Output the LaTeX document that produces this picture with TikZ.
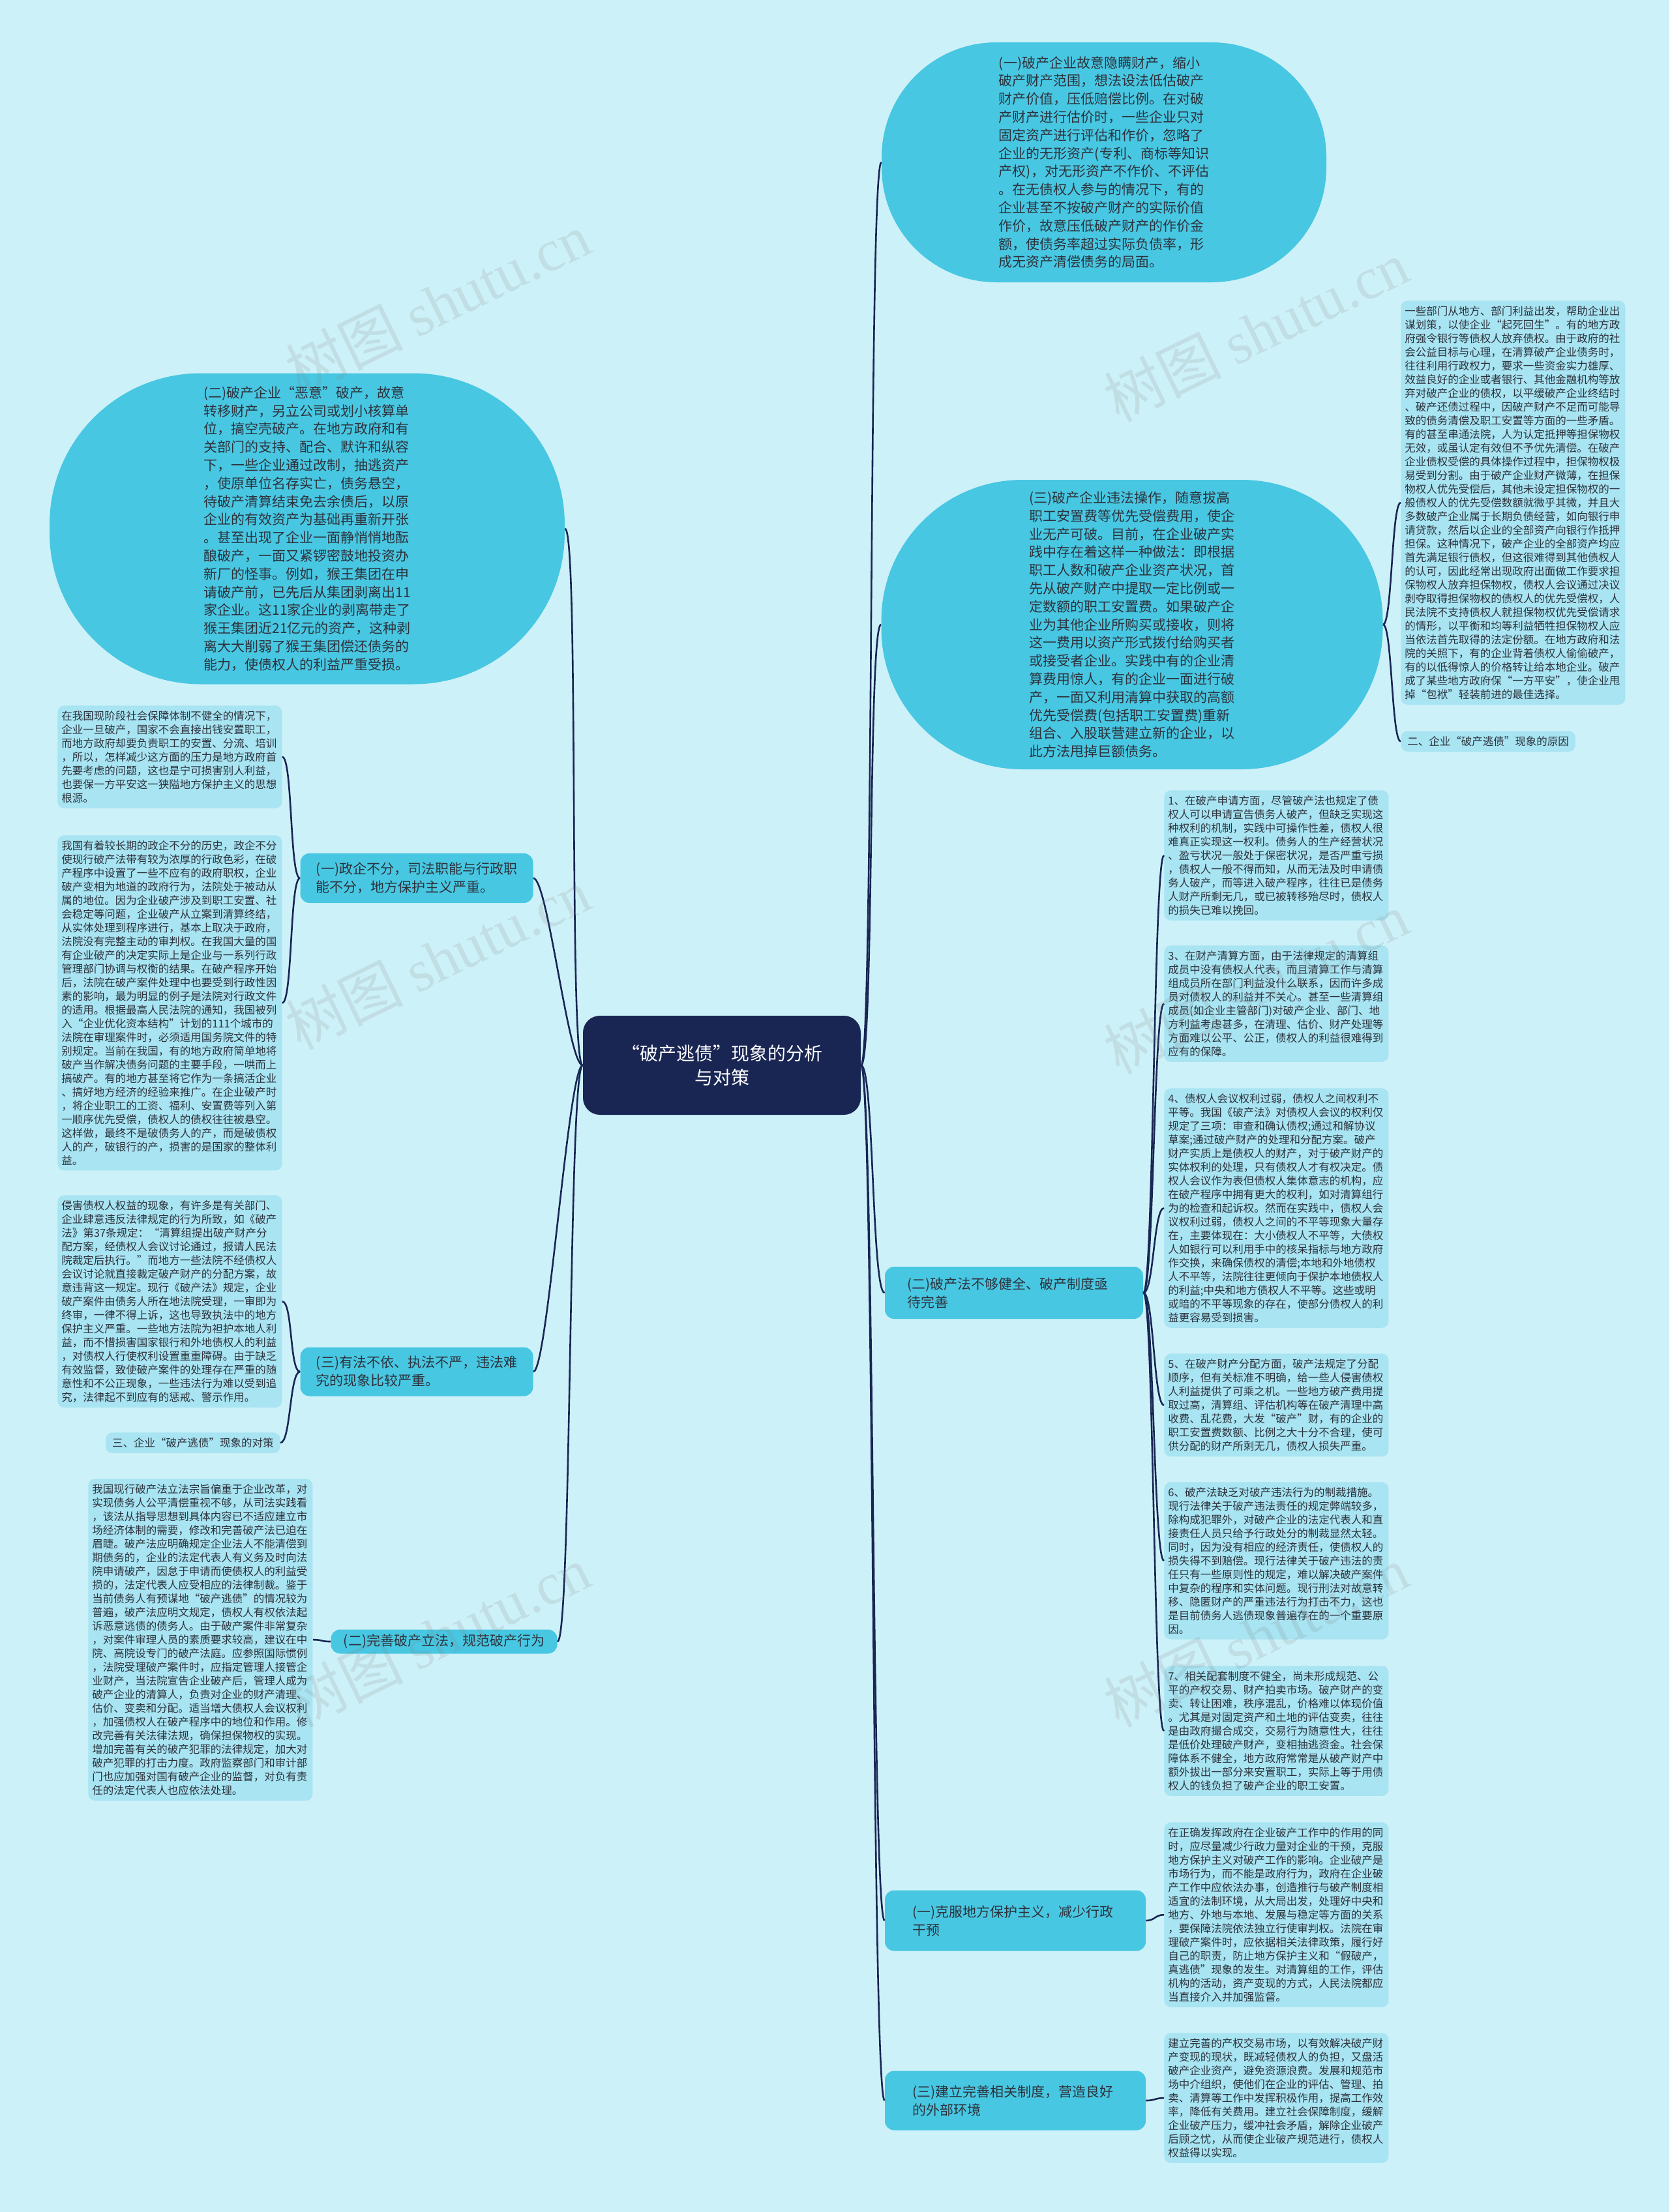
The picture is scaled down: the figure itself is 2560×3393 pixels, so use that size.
\documentclass[tikz,border=0pt]{standalone}
\usepackage{fontspec}
\setmainfont{Noto Sans CJK SC}
\newfontfamily\wmlatin{Liberation Serif}
\usepackage{tikz}
\usetikzlibrary{positioning}
\definecolor{pagecyan}{RGB}{205,241,248}
\definecolor{bubblecyan}{RGB}{72,199,226}
\definecolor{notecyan}{RGB}{168,228,242}
\definecolor{rootnavy}{RGB}{25,38,84}
\definecolor{inkgrey}{RGB}{45,50,60}
\tikzset{
  base/.style={text=inkgrey, align=left, inner sep=0pt},
  bubble/.style={base, fill=bubblecyan, font=\fontsize{10.5}{13.9}\selectfont},
  note/.style={base, fill=notecyan, rounded corners=5pt, inner xsep=3pt, inner ysep=4pt, text width=166pt, font=\fontsize{8.25}{10.5}\selectfont},
  tag/.style={base, fill=notecyan, rounded corners=5pt, inner xsep=5pt, inner ysep=4pt, font=\fontsize{8.25}{10.5}\selectfont},
  topic/.style={base, fill=bubblecyan, rounded corners=7pt, font=\fontsize{10.5}{14}\selectfont},
  root/.style={base, fill=rootnavy, text=white, align=center, rounded corners=13pt, font=\fontsize{14}{18.5}\selectfont},
  link/.style={draw=rootnavy, line width=1.3pt},
  wmark/.style={text=gray, opacity=0.16, rotate=26, font=\fontsize{45}{45}\selectfont},
}
\begin{document}
\begin{tikzpicture}[x=0.5pt,y=-0.5pt]
  \useasboundingbox (0,0) rectangle (2560,3393);
  \fill[pagecyan] (0,0) rectangle (2560,3393);

  % centre
  \node[root,minimum width=213pt,minimum height=76pt] (root) at (1107,1634) {“破产逃债”现象的分析\\与对策};

  % big bubbles
  \node[bubble,minimum width=341pt,minimum height=184pt,rounded corners=88pt] (e1) at (1693,249) {(一)破产企业故意隐瞒财产，缩小\\
破产财产范围，想法设法低估破产\\
财产价值，压低赔偿比例。在对破\\
产财产进行估价时，一些企业只对\\
固定资产进行评估和作价，忽略了\\
企业的无形资产(专利、商标等知识\\
产权)，对无形资产不作价、不评估\\
。在无债权人参与的情况下，有的\\
企业甚至不按破产财产的实际价值\\
作价，故意压低破产财产的作价金\\
额，使债务率超过实际负债率，形\\
成无资产清偿债务的局面。};
  \node[bubble,minimum width=395pt,minimum height=238.5pt,rounded corners=116pt] (e2) at (471,811) {(二)破产企业“恶意”破产，故意\\
转移财产，另立公司或划小核算单\\
位，搞空壳破产。在地方政府和有\\
关部门的支持、配合、默许和纵容\\
下，一些企业通过改制，抽逃资产\\
，使原单位名存实亡，债务悬空，\\
待破产清算结束免去余债后，以原\\
企业的有效资产为基础再重新开张\\
。甚至出现了企业一面静悄悄地酝\\
酿破产，一面又紧锣密鼓地投资办\\
新厂的怪事。例如，猴王集团在申\\
请破产前，已先后从集团剥离出11\\
家企业。这11家企业的剥离带走了\\
猴王集团近21亿元的资产，这种剥\\
离大大削弱了猴王集团偿还债务的\\
能力，使债权人的利益严重受损。};
  \node[bubble,minimum width=384.5pt,minimum height=222pt,rounded corners=108pt] (e3) at (1736,958) {(三)破产企业违法操作，随意拔高\\
职工安置费等优先受偿费用，使企\\
业无产可破。目前，在企业破产实\\
践中存在着这样一种做法：即根据\\
职工人数和破产企业资产状况，首\\
先从破产财产中提取一定比例或一\\
定数额的职工安置费。如果破产企\\
业为其他企业所购买或接收，则将\\
这一费用以资产形式拨付给购买者\\
或接受者企业。实践中有的企业清\\
算费用惊人，有的企业一面进行破\\
产，一面又利用清算中获取的高额\\
优先受偿费(包括职工安置费)重新\\
组合、入股联营建立新的企业，以\\
此方法甩掉巨额债务。};

  \node[note,anchor=north west] (n0) at (2148,461) {一些部门从地方、部门利益出发，帮助企业出\\
谋划策，以使企业“起死回生”。有的地方政\\
府强令银行等债权人放弃债权。由于政府的社\\
会公益目标与心理，在清算破产企业债务时，\\
往往利用行政权力，要求一些资金实力雄厚、\\
效益良好的企业或者银行、其他金融机构等放\\
弃对破产企业的债权，以平缓破产企业终结时\\
、破产还债过程中，因破产财产不足而可能导\\
致的债务清偿及职工安置等方面的一些矛盾。\\
有的甚至串通法院，人为认定抵押等担保物权\\
无效，或虽认定有效但不予优先清偿。在破产\\
企业债权受偿的具体操作过程中，担保物权极\\
易受到分割。由于破产企业财产微薄，在担保\\
物权人优先受偿后，其他未设定担保物权的一\\
般债权人的优先受偿数额就微乎其微，并且大\\
多数破产企业属于长期负债经营，如向银行申\\
请贷款，然后以企业的全部资产向银行作抵押\\
担保。这种情况下，破产企业的全部资产均应\\
首先满足银行债权，但这很难得到其他债权人\\
的认可，因此经常出现政府出面做工作要求担\\
保物权人放弃担保物权，债权人会议通过决议\\
剥夺取得担保物权的债权人的优先受偿权，人\\
民法院不支持债权人就担保物权优先受偿请求\\
的情形，以平衡和均等利益牺牲担保物权人应\\
当依法首先取得的法定份额。在地方政府和法\\
院的关照下，有的企业背着债权人偷偷破产，\\
有的以低得惊人的价格转让给本地企业。破产\\
成了某些地方政府保“一方平安”，使企业甩\\
掉“包袱”轻装前进的最佳选择。};
  \node[tag,anchor=north west] (lb2) at (2148,1121) {二、企业“破产逃债”现象的原因};

  % left branches
  \node[topic,minimum width=178.5pt,minimum height=38pt] (t1) at (639,1347) {(一)政企不分，司法职能与行政职\\能不分，地方保护主义严重。};
  \node[topic,minimum width=178.5pt,minimum height=37.5pt] (t3) at (639,2104) {(三)有法不依、执法不严，违法难\\究的现象比较严重。};
  \node[topic,minimum width=173.5pt,minimum height=18.5pt] (t2) at (681,2518) {(二)完善破产立法，规范破产行为};

  \node[note,anchor=north west] (a1) at (88,1082) {在我国现阶段社会保障体制不健全的情况下，\\
企业一旦破产，国家不会直接出钱安置职工，\\
而地方政府却要负责职工的安置、分流、培训\\
，所以，怎样减少这方面的压力是地方政府首\\
先要考虑的问题，这也是宁可损害别人利益，\\
也要保一方平安这一狭隘地方保护主义的思想\\
根源。};
  \node[note,anchor=north west] (a2) at (88,1281) {我国有着较长期的政企不分的历史，政企不分\\
使现行破产法带有较为浓厚的行政色彩，在破\\
产程序中设置了一些不应有的政府职权，企业\\
破产变相为地道的政府行为，法院处于被动从\\
属的地位。因为企业破产涉及到职工安置、社\\
会稳定等问题，企业破产从立案到清算终结，\\
从实体处理到程序进行，基本上取决于政府，\\
法院没有完整主动的审判权。在我国大量的国\\
有企业破产的决定实际上是企业与一系列行政\\
管理部门协调与权衡的结果。在破产程序开始\\
后，法院在破产案件处理中也要受到行政性因\\
素的影响，最为明显的例子是法院对行政文件\\
的适用。根据最高人民法院的通知，我国被列\\
入“企业优化资本结构”计划的111个城市的\\
法院在审理案件时，必须适用国务院文件的特\\
别规定。当前在我国，有的地方政府简单地将\\
破产当作解决债务问题的主要手段，一哄而上\\
搞破产。有的地方甚至将它作为一条搞活企业\\
、搞好地方经济的经验来推广。在企业破产时\\
，将企业职工的工资、福利、安置费等列入第\\
一顺序优先受偿，债权人的债权往往被悬空。\\
这样做，最终不是破债务人的产，而是破债权\\
人的产，破银行的产，损害的是国家的整体利\\
益。};
  \node[note,anchor=north west] (a3) at (88,1833) {侵害债权人权益的现象，有许多是有关部门、\\
企业肆意违反法律规定的行为所致，如《破产\\
法》第37条规定：“清算组提出破产财产分\\
配方案，经债权人会议讨论通过，报请人民法\\
院裁定后执行。”而地方一些法院不经债权人\\
会议讨论就直接裁定破产财产的分配方案，故\\
意违背这一规定。现行《破产法》规定，企业\\
破产案件由债务人所在地法院受理，一审即为\\
终审，一律不得上诉，这也导致执法中的地方\\
保护主义严重。一些地方法院为袒护本地人利\\
益，而不惜损害国家银行和外地债权人的利益\\
，对债权人行使权利设置重重障碍。由于缺乏\\
有效监督，致使破产案件的处理存在严重的随\\
意性和不公正现象，一些违法行为难以受到追\\
究，法律起不到应有的惩戒、警示作用。};
  \node[tag,anchor=north east] (lb3) at (430,2197) {三、企业“破产逃债”现象的对策};
  \node[note,anchor=north west] (a4) at (135,2268) {我国现行破产法立法宗旨偏重于企业改革，对\\
实现债务人公平清偿重视不够，从司法实践看\\
，该法从指导思想到具体内容已不适应建立市\\
场经济体制的需要，修改和完善破产法已迫在\\
眉睫。破产法应明确规定企业法人不能清偿到\\
期债务的，企业的法定代表人有义务及时向法\\
院申请破产，因怠于申请而使债权人的利益受\\
损的，法定代表人应受相应的法律制裁。鉴于\\
当前债务人有预谋地“破产逃债”的情况较为\\
普遍，破产法应明文规定，债权人有权依法起\\
诉恶意逃债的债务人。由于破产案件非常复杂\\
，对案件审理人员的素质要求较高，建议在中\\
院、高院设专门的破产法庭。应参照国际惯例\\
，法院受理破产案件时，应指定管理人接管企\\
业财产，当法院宣告企业破产后，管理人成为\\
破产企业的清算人，负责对企业的财产清理、\\
估价、变卖和分配。适当增大债权人会议权利\\
，加强债权人在破产程序中的地位和作用。修\\
改完善有关法律法规，确保担保物权的实现。\\
增加完善有关的破产犯罪的法律规定，加大对\\
破产犯罪的打击力度。政府监察部门和审计部\\
门也应加强对国有破产企业的监督，对负有责\\
任的法定代表人也应依法处理。};

  % right branches
  \node[topic,minimum width=198pt,minimum height=40pt] (r2) at (1555,1983) {(二)破产法不够健全、破产制度亟\\待完善\hspace*{132pt}};
  \node[topic,minimum width=200pt,minimum height=46.5pt] (r1) at (1557,2946) {(一)克服地方保护主义，减少行政\\干预\hspace*{137pt}};
  \node[topic,minimum width=200pt,minimum height=45.5pt] (r3) at (1557,3222) {(三)建立完善相关制度，营造良好\\的外部环境\hspace*{105pt}};

  \node[note,anchor=north west] (b1) at (1785,1212) {1、在破产申请方面，尽管破产法也规定了债\\
权人可以申请宣告债务人破产，但缺乏实现这\\
种权利的机制，实践中可操作性差，债权人很\\
难真正实现这一权利。债务人的生产经营状况\\
、盈亏状况一般处于保密状况，是否严重亏损\\
，债权人一般不得而知，从而无法及时申请债\\
务人破产，而等进入破产程序，往往已是债务\\
人财产所剩无几，或已被转移殆尽时，债权人\\
的损失已难以挽回。};
  \node[note,anchor=north west] (b3) at (1785,1450) {3、在财产清算方面，由于法律规定的清算组\\
成员中没有债权人代表，而且清算工作与清算\\
组成员所在部门利益没什么联系，因而许多成\\
员对债权人的利益并不关心。甚至一些清算组\\
成员(如企业主管部门)对破产企业、部门、地\\
方利益考虑甚多，在清理、估价、财产处理等\\
方面难以公平、公正，债权人的利益很难得到\\
应有的保障。};
  \node[note,anchor=north west] (b4) at (1785,1669) {4、债权人会议权利过弱，债权人之间权利不\\
平等。我国《破产法》对债权人会议的权利仅\\
规定了三项：审查和确认债权;通过和解协议\\
草案;通过破产财产的处理和分配方案。破产\\
财产实质上是债权人的财产，对于破产财产的\\
实体权利的处理，只有债权人才有权决定。债\\
权人会议作为表但债权人集体意志的机构，应\\
在破产程序中拥有更大的权利，如对清算组行\\
为的检查和起诉权。然而在实践中，债权人会\\
议权利过弱，债权人之间的不平等现象大量存\\
在，主要体现在：大小债权人不平等，大债权\\
人如银行可以利用手中的核呆指标与地方政府\\
作交换，来确保债权的清偿;本地和外地债权\\
人不平等，法院往往更倾向于保护本地债权人\\
的利益;中央和地方债权人不平等。这些或明\\
或暗的不平等现象的存在，使部分债权人的利\\
益更容易受到损害。};
  \node[note,anchor=north west] (b5) at (1785,2076) {5、在破产财产分配方面，破产法规定了分配\\
顺序，但有关标准不明确，给一些人侵害债权\\
人利益提供了可乘之机。一些地方破产费用提\\
取过高，清算组、评估机构等在破产清理中高\\
收费、乱花费，大发“破产”财，有的企业的\\
职工安置费数额、比例之大十分不合理，使可\\
供分配的财产所剩无几，债权人损失严重。};
  \node[note,anchor=north west] (b6) at (1785,2273) {6、破产法缺乏对破产违法行为的制裁措施。\\
现行法律关于破产违法责任的规定弊端较多，\\
除构成犯罪外，对破产企业的法定代表人和直\\
接责任人员只给予行政处分的制裁显然太轻。\\
同时，因为没有相应的经济责任，使债权人的\\
损失得不到赔偿。现行法律关于破产违法的责\\
任只有一些原则性的规定，难以解决破产案件\\
中复杂的程序和实体问题。现行刑法对故意转\\
移、隐匿财产的严重违法行为打击不力，这也\\
是目前债务人逃债现象普遍存在的一个重要原\\
因。};
  \node[note,anchor=north west] (b7) at (1785,2555) {7、相关配套制度不健全，尚未形成规范、公\\
平的产权交易、财产拍卖市场。破产财产的变\\
卖、转让困难，秩序混乱，价格难以体现价值\\
。尤其是对固定资产和土地的评估变卖，往往\\
是由政府撮合成交，交易行为随意性大，往往\\
是低价处理破产财产，变相抽逃资金。社会保\\
障体系不健全，地方政府常常是从破产财产中\\
额外拔出一部分来安置职工，实际上等于用债\\
权人的钱负担了破产企业的职工安置。};
  \node[note,anchor=north west] (c1) at (1785,2795) {在正确发挥政府在企业破产工作中的作用的同\\
时，应尽量减少行政力量对企业的干预，克服\\
地方保护主义对破产工作的影响。企业破产是\\
市场行为，而不能是政府行为，政府在企业破\\
产工作中应依法办事，创造推行与破产制度相\\
适宜的法制环境，从大局出发，处理好中央和\\
地方、外地与本地、发展与稳定等方面的关系\\
，要保障法院依法独立行使审判权。法院在审\\
理破产案件时，应依据相关法律政策，履行好\\
自己的职责，防止地方保护主义和“假破产，\\
真逃债”现象的发生。对清算组的工作，评估\\
机构的活动，资产变现的方式，人民法院都应\\
当直接介入并加强监督。};
  \node[note,anchor=north west] (c3) at (1785,3118) {建立完善的产权交易市场，以有效解决破产财\\
产变现的现状，既减轻债权人的负担，又盘活\\
破产企业资产，避免资源浪费。发展和规范市\\
场中介组织，使他们在企业的评估、管理、拍\\
卖、清算等工作中发挥积极作用，提高工作效\\
率，降低有关费用。建立社会保障制度，缓解\\
企业破产压力，缓冲社会矛盾，解除企业破产\\
后顾之忧，从而使企业破产规范进行，债权人\\
权益得以实现。};

  % connectors
  \foreach \t in {e1,e3,r2,r1,r3}{\draw[link] (root.east) .. controls +(20,0) and +(-20,0) .. (\t.west);}
  \foreach \t in {e2,t1,t3,t2}{\draw[link] (root.west) .. controls +(-22,0) and +(22,0) .. (\t.east);}
  \foreach \t in {n0,lb2}{\draw[link] (e3.east) .. controls +(14,0) and +(-14,0) .. (\t.west);}
  \foreach \t in {b1,b3,b4,b5,b6,b7}{\draw[link] (r2.east) .. controls +(16,0) and +(-16,0) .. (\t.west);}
  \draw[link] (r1.east) .. controls +(14,0) and +(-14,0) .. (c1.west);
  \draw[link] (r3.east) .. controls +(14,0) and +(-14,0) .. (c3.west);
  \foreach \t in {a1,a2}{\draw[link] (t1.west) .. controls +(-16,0) and +(16,0) .. (\t.east);}
  \foreach \t in {a3,lb3}{\draw[link] (t3.west) .. controls +(-16,0) and +(16,0) .. (\t.east);}
  \draw[link] (t2.west) .. controls +(-16,0) and +(16,0) .. (a4.east);

  % watermarks
  \foreach \wx/\wy [count=\k] in {671/465,1926/508,671/1471,1926/1508,671/2510,1926/2510}{
    \node[wmark] (wm\k) at (\wx,\wy) {树图 {\wmlatin shutu.cn}};
  }
\end{tikzpicture}
\end{document}
